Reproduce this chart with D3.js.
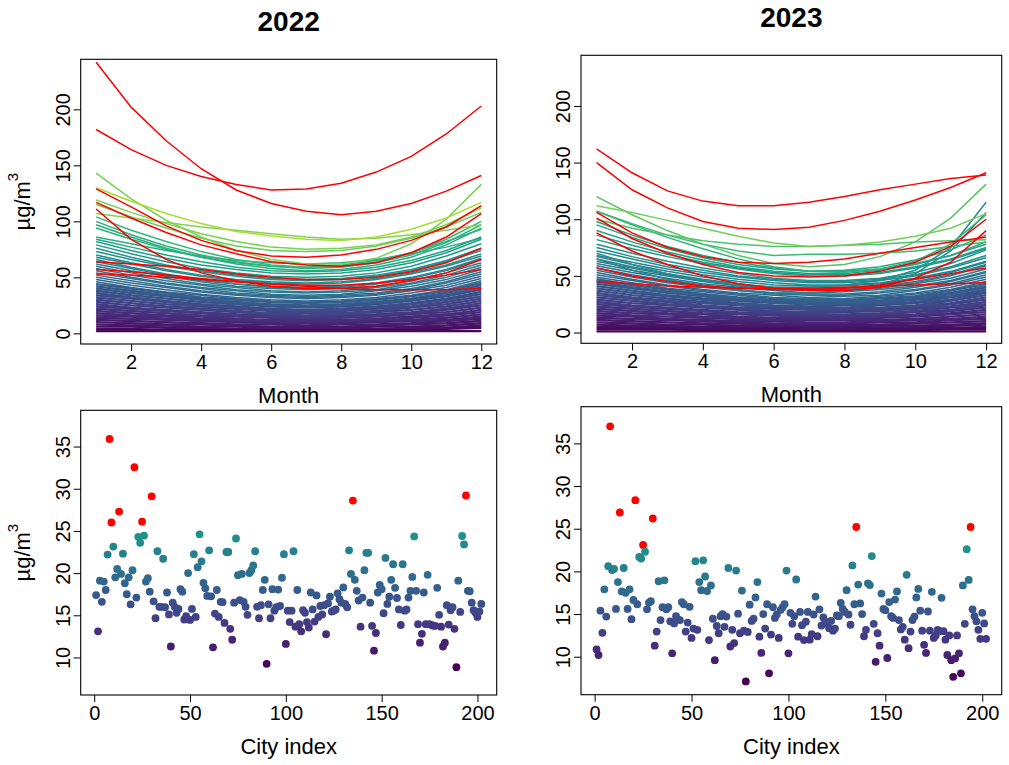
<!DOCTYPE html>
<html>
<head>
<meta charset="utf-8">
<script src="https://cdn.jsdelivr.net/npm/d3@7"></script>
<style>
body { margin: 0; background: #fff; }
text { font-family: "Liberation Sans", Arial, Helvetica, sans-serif; }
</style>
</head>
<body>
<svg id="chart" width="1009" height="765"></svg>
<script>
// ---- data ----
var months = [1, 2, 3, 4, 5, 6, 7, 8, 9, 10, 11, 12];
var monthTicks = [2, 4, 6, 8, 10, 12];
var topTicks = [0, 50, 100, 150, 200];
var cityTicks = [0, 50, 100, 150, 200];
var pmTicks = [10, 15, 20, 25, 30, 35];

// monthly curves, one row per city (Jan..Dec)
var redLines2022 = [
  [242,202,172,147,128,116,109,106,109,116,127,141],
  [182,164,150,140,133,128,129,134,144,158,178,203],
  [129,113,96,83,74,69,68,70,75,83,95,114],
  [117,103,90,79,71,64,61,60,63,72,86,107],
  [111,84,66,54,47,42,40,40,42,47,54,66],
  [64,62,60,57,53,50,48,48,50,55,63,76],
  [57,55,52,49,46,44,43,43,45,48,52,57],
  [53,52,50,48,46,44,42,40,39,39,39,40]
];
var lines2022 = [
  [143,120,101,86,74,66,62,62,67,80,102,133],
  [130,118,107,98,91,87,84,83,86,93,103,117],
  [107,103,99,95,92,89,86,84,85,88,92,97],
  [119,108,98,89,82,77,75,76,79,86,97,112],
  [115,104,94,85,78,74,73,74,78,85,95,108],
  [104,92,82,73,66,61,59,60,64,72,84,100],
  [100,88,78,70,64,60,58,59,63,70,81,97],
  [97,86,76,68,62,58,56,57,61,68,79,94],
  [94,84,75,68,63,60,59,61,65,72,82,93],
  [86,80,74,69,65,63,62,63,66,71,77,85],
  [84,77,70,64,59,56,55,56,59,65,74,86],
  [82,74,67,61,57,54,53,54,57,63,72,84],
  [79,71,64,58,54,51,50,51,54,60,69,80],
  [76,68,61,56,52,49,48,49,52,57,65,76],
  [73,66,60,55,51,48,47,48,51,56,64,74],
  [70,63,57,52,48,46,45,46,49,54,61,71],
  [68,62,56,51,47,45,44,45,48,53,60,69],
  [66,59,53,48,44,42,41,42,45,50,57,67],
  [64,58,52,47,44,41,40,41,44,49,56,66],
  [62,56,51,46,42,40,39,40,42,47,54,63],
  [60,54,49,44,41,38,37,38,41,45,52,61],
  [58,52,47,43,39,37,36,37,39,44,50,59],
  [56,50,45,41,38,35,34,35,38,42,48,57],
  [54,49,44,40,36,34,33,34,36,40,46,55],
  [52,47,42,38,35,33,32,33,35,39,45,53],
  [50,45,41,37,34,32,31,32,34,38,43,51],
  [48,43,39,35,32,30,29,30,32,36,41,49],
  [46,41,37,34,31,29,28,29,31,34,39,47],
  [44,40,36,32,30,28,27,28,30,33,38,45],
  [42,38,34,31,28,26,25,26,28,31,36,43],
  [40,36,33,30,27,25,24,25,27,30,34,41],
  [38,34,31,28,26,24,23,24,26,29,33,39],
  [36,32,29,26,24,22,21,22,24,27,31,37],
  [34,31,28,25,23,21,20,21,23,26,30,35],
  [32,29,26,24,22,20,19,20,22,24,28,33],
  [30,27,24,22,20,18,18,18,20,23,26,31],
  [28,25,23,21,19,17,16,17,19,21,24,29],
  [26,23,21,19,17,16,15,16,17,19,22,27],
  [24,22,20,18,16,15,14,15,16,18,21,25],
  [22,20,18,16,15,14,13,14,15,17,19,23],
  [20,18,16,15,13,12,12,12,13,15,17,21],
  [18,16,15,13,12,11,11,11,12,14,16,19],
  [16,15,13,12,11,10,10,10,11,12,14,17],
  [14,13,12,11,10,9,9,9,10,11,12,15],
  [12,11,10,9,8,8,7,8,8,9,11,13],
  [10,9,8,8,7,6,6,6,7,8,9,11],
  [8,7,7,6,6,5,5,5,6,6,7,9],
  [6,6,5,5,4,4,4,4,4,5,5,7],
  [4,4,3,3,3,3,3,3,3,3,4,5],
  [2,2,2,2,2,2,2,2,2,2,2,2]
];

var redLines2023 = [
  [162,141,125,116,112,112,115,120,126,131,136,139],
  [150,126,110,98,92,91,93,99,107,117,128,141],
  [106,88,75,67,62,61,62,65,70,75,80,84],
  [101,83,70,60,53,50,49,50,54,62,76,100],
  [88,72,60,50,43,39,37,37,40,48,62,90],
  [57,50,45,41,39,38,38,39,42,47,52,57],
  [45,43,41,40,39,39,39,40,41,42,43,44]
];
var lines2023 = [
  [120,104,90,78,68,61,58,60,67,80,101,131],
  [112,106,99,92,85,79,76,77,80,85,92,105],
  [100,92,86,81,78,76,76,77,78,80,81,82],
  [107,96,86,78,72,68,69,69,70,72,76,80],
  [107,95,84,74,65,58,54,53,56,63,78,104],
  [70,60,52,46,42,40,40,42,46,55,75,115],
  [65,55,47,41,37,35,35,37,42,52,72,106],
  [98,86,76,68,62,57,54,54,56,61,68,78],
  [95,84,74,66,60,56,54,55,58,64,73,86],
  [90,80,71,64,58,54,52,52,55,60,68,80],
  [86,77,69,62,57,53,51,51,53,58,65,75],
  [82,74,67,61,56,52,50,50,52,57,64,74],
  [78,70,63,57,52,48,46,46,48,53,61,73],
  [75,67,60,55,50,47,45,45,47,51,58,68],
  [72,65,58,53,49,46,44,44,46,50,57,66],
  [68,62,56,51,47,44,42,42,44,48,54,63],
  [67,60,54,49,45,42,41,41,43,47,53,62],
  [65,58,52,47,43,40,39,39,41,45,51,60],
  [63,57,51,46,42,39,38,38,40,44,50,59],
  [61,55,50,45,41,38,37,37,39,43,48,56],
  [59,53,48,43,40,37,35,36,38,41,46,54],
  [57,51,46,42,38,35,34,34,36,40,45,53],
  [55,49,44,40,37,34,33,33,35,38,43,51],
  [53,47,42,38,35,33,31,32,33,37,42,49],
  [51,46,41,37,34,31,30,30,32,35,40,47],
  [49,44,39,36,33,30,29,29,31,34,38,45],
  [47,42,38,34,31,29,28,28,30,32,37,43],
  [45,40,36,33,30,28,27,27,28,31,35,41],
  [43,39,35,32,29,27,26,26,27,30,34,40],
  [41,37,33,30,28,26,25,25,26,29,32,38],
  [39,35,32,29,26,24,23,24,25,27,31,36],
  [37,33,30,27,25,23,22,22,24,26,29,35],
  [35,31,28,26,24,22,21,21,22,24,28,33],
  [33,30,27,24,22,21,20,20,21,23,26,31],
  [31,28,25,23,21,19,18,19,20,22,25,29],
  [29,26,24,22,20,18,17,18,19,21,23,27],
  [27,24,22,20,18,17,16,16,17,19,22,25],
  [25,23,21,19,17,16,15,15,16,18,20,24],
  [23,21,19,17,16,15,14,14,15,16,19,22],
  [21,19,17,16,14,13,13,13,14,15,17,20],
  [19,17,16,14,13,12,12,12,13,14,16,18],
  [17,15,14,13,12,11,11,11,11,12,14,16],
  [15,14,12,11,10,10,9,9,10,11,12,14],
  [13,12,11,10,9,8,8,8,9,9,11,12],
  [11,10,9,8,8,7,7,7,7,8,9,10],
  [9,8,7,7,6,6,6,6,6,6,7,8],
  [7,6,6,5,5,5,4,4,5,5,6,7],
  [5,5,4,4,4,3,3,3,3,4,4,5],
  [3,3,3,2,2,2,2,2,2,2,3,3],
  [1,1,1,1,1,1,1,1,1,1,1,1]
];

// per-city annual values, city index 1..202
var pm2022 = [
  17.4,13.1,19.1,16.6,19.0,18.0,22.2,35.9,26.0,23.15,
  19.5,20.5,27.3,19.9,22.3,18.8,17.5,19.5,16.3,20.35,
  32.55,17.1,24.3,23.6,26.1,24.45,19.0,19.4,17.8,29.1,
  16.65,14.65,22.6,16.0,16.0,21.7,15.95,17.7,15.1,11.3,
  16.5,16.0,15.3,15.75,18.1,17.8,14.5,14.9,20.0,14.45,
  15.75,22.25,14.8,20.7,24.6,21.4,18.85,18.2,17.3,22.7,
  17.25,11.2,15.2,18.0,14.8,16.6,16.55,14.1,22.5,22.5,
  13.4,12.1,16.5,24.1,19.75,16.8,19.9,16.6,16.0,15.05,
  20.0,20.35,20.9,22.6,16.0,14.65,16.2,18.0,19.2,9.25,
  16.3,14.65,18.1,15.55,15.95,18.05,16.1,19.45,22.25,11.6,
  15.55,14.2,15.55,22.6,13.65,18.0,13.95,13.1,15.6,15.3,
  14.2,13.55,17.7,15.7,14.25,17.35,14.8,16.1,15.1,16.2,
  12.75,16.4,17.2,15.45,15.55,15.7,17.6,16.9,16.5,18.3,
  16.35,15.95,22.7,19.9,28.6,19.2,17.9,16.75,13.65,17.1,
  20.35,22.4,22.4,16.5,13.75,10.8,12.9,17.7,18.6,18.1,
  15.25,21.8,16.35,17.2,19.2,21.05,18.25,17.05,15.7,13.85,
  21.05,15.55,15.7,17.1,17.9,19.55,24.35,17.9,13.95,11.75,
  12.8,17.7,13.95,19.8,13.95,13.85,13.75,13.75,18.25,15.05,
  13.65,11.3,11.75,16.2,13.9,15.6,15.95,13.4,8.85,19.1,
  15.4,24.4,23.4,29.2,17.9,17.85,16.5,15.6,15.3,14.8,
  15.45,16.35
];
var pm2023 = [
  10.85,10.2,15.4,12.8,17.9,14.7,20.6,37.0,20.15,20.3,
  15.6,18.75,26.9,17.65,20.4,17.5,15.6,17.9,14.4,16.65,
  28.35,16.15,21.7,21.5,23.1,22.3,15.55,16.35,16.5,26.2,
  11.3,12.95,18.85,14.3,15.8,18.95,15.55,15.8,14.15,10.4,
  13.9,14.75,14.35,14.3,16.4,16.15,12.95,14.0,15.85,12.2,
  13.3,21.2,13.15,18.75,17.8,21.3,19.4,17.7,11.95,18.35,
  14.45,9.6,13.6,12.75,14.75,15.0,13.5,14.7,20.4,11.2,
  13.15,11.6,20.1,15.05,12.75,17.75,13.05,7.1,12.9,16.1,
  14.2,14.45,16.95,18.75,12.35,10.45,15.0,13.3,16.15,8.05,
  12.6,15.8,14.55,14.95,12.2,15.5,15.8,16.15,20.1,10.4,
  15.15,13.85,14.75,19.05,12.35,15.25,13.7,11.95,14.1,15.25,
  12.0,12.65,14.95,17.05,12.4,15.55,13.65,14.6,14.1,13.85,
  13.35,14.2,13.05,13.3,14.85,14.75,16.3,15.6,15.25,17.8,
  14.95,13.75,20.7,16.15,25.2,18.45,16.25,15.0,12.4,13.15,
  18.6,18.4,21.8,13.85,9.4,12.75,11.3,17.4,15.6,15.45,
  9.85,16.4,14.75,14.55,16.7,17.65,14.3,13.2,13.5,12.0,
  19.6,11.0,12.95,14.3,14.7,16.95,17.95,15.4,13.05,11.4,
  10.45,15.3,13.05,17.6,12.2,12.5,13.15,13.0,16.9,13.0,
  12.0,10.2,12.5,9.6,7.65,9.8,12.5,10.4,8.05,18.35,
  13.85,22.6,19.0,25.2,15.55,14.75,14.15,13.15,12.1,15.15,
  13.9,12.1
];
var redCities2022 = [8, 9, 13, 21, 25, 30, 135, 194];
var redCities2023 = [8, 13, 21, 25, 30, 135, 194];

// ---- drawing ----
var svg = d3.select('#chart');
var font = '"Liberation Sans", Arial, Helvetica, sans-serif';

var panels = [
  { year: '2022', x0: 80.7, x1: 496.7, top: [59.3, 344], bot: [410.3, 695], ylab: true, titleY: 31,
    lines: lines2022, reds: redLines2022, pm: pm2022, redCities: redCities2022 },
  { year: '2023', x0: 581, x1: 1001.7, top: [55.3, 343.3], bot: [406.7, 694.7], ylab: false, titleY: 27,
    lines: lines2023, reds: redLines2023, pm: pm2023, redCities: redCities2023 }
];

function lineColour(m) {
  return d3.interpolateViridis(Math.max(0, Math.min(0.88, m / 115)));
}

function box(x0, x1, y0, y1) {
  svg.append('rect')
    .attr('x', x0).attr('y', y0)
    .attr('width', x1 - x0).attr('height', y1 - y0)
    .attr('fill', 'none').attr('stroke', '#000').attr('stroke-width', 1.1);
}

function xAxis(scale, ticks, yPos) {
  var a = svg.append('g').attr('transform', 'translate(0,' + yPos + ')')
    .call(d3.axisBottom(scale).tickValues(ticks).tickSize(7).tickPadding(4).tickFormat(d3.format('d')));
  a.attr('font-size', 20).attr('font-family', font);
  a.select('.domain').remove();
  a.selectAll('line').attr('stroke', '#000');
  a.selectAll('text').attr('fill', '#000');
}

function yAxis(scale, ticks, xPos) {
  var a = svg.append('g').attr('transform', 'translate(' + xPos + ',0)')
    .call(d3.axisLeft(scale).tickValues(ticks).tickSize(7).tickFormat(d3.format('d')));
  a.attr('font-size', 20).attr('font-family', font);
  a.select('.domain').remove();
  a.selectAll('line').attr('stroke', '#000');
  a.selectAll('text')
    .attr('x', 0).attr('dy', 0)
    .attr('text-anchor', 'middle')
    .attr('fill', '#000')
    .attr('transform', 'translate(-11,0) rotate(-90)');
}

function unitLabel(cy) {
  var t = svg.append('text')
    .attr('transform', 'translate(30,' + cy + ') rotate(-90)')
    .attr('text-anchor', 'middle')
    .attr('font-size', 22);
  t.append('tspan').text('\u00b5g/m');
  t.append('tspan').attr('font-size', 15).attr('dy', -12).text('3');
}

panels.forEach(function(p) {
  // top: monthly curves
  var x = d3.scaleLinear().domain([0.56, 12.44]).range([p.x0, p.x1]);
  var y = d3.scaleLinear().domain([-9.5, 244.7]).range([p.top[1], p.top[0]]);
  var clipId = 'clip' + p.year;
  svg.append('clipPath').attr('id', clipId).append('rect')
    .attr('x', p.x0).attr('y', p.top[0])
    .attr('width', p.x1 - p.x0).attr('height', p.top[1] - p.top[0]);

  var line = d3.line()
    .x(function(d, i) { return x(months[i]); })
    .y(function(d) { return y(d); });

  var g = svg.append('g').attr('clip-path', 'url(#' + clipId + ')');
  var sorted = p.lines.slice().sort(function(a, b) { return d3.mean(a) - d3.mean(b); });
  g.selectAll('path.city').data(sorted).join('path')
    .attr('class', 'city')
    .attr('d', line)
    .attr('fill', 'none')
    .attr('stroke', function(d) { return lineColour(d3.mean(d)); })
    .attr('stroke-width', function(d) { return d3.mean(d) < 35 ? 2.4 : 1.5; });
  g.selectAll('path.red').data(p.reds).join('path')
    .attr('class', 'red')
    .attr('d', line)
    .attr('fill', 'none')
    .attr('stroke', '#ff0000')
    .attr('stroke-width', 1.5);

  box(p.x0, p.x1, p.top[0], p.top[1]);
  xAxis(x, monthTicks, p.top[1]);
  yAxis(y, topTicks, p.x0);

  svg.append('text')
    .attr('x', (p.x0 + p.x1) / 2).attr('y', p.titleY)
    .attr('text-anchor', 'middle')
    .attr('font-size', 28).attr('font-weight', 'bold')
    .text(p.year);
  svg.append('text')
    .attr('x', (p.x0 + p.x1) / 2).attr('y', p.top[1] + 59)
    .attr('text-anchor', 'middle')
    .attr('font-size', 22)
    .text('Month');

  // bottom: city scatter
  var xs = d3.scaleLinear().domain([-7.04, 210.04]).range([p.x0, p.x1]);
  var ys = d3.scaleLinear().domain([5.55, 39.3]).range([p.bot[1], p.bot[0]]);
  var vmin = d3.min(p.pm);
  var colour = d3.scaleSequential(d3.interpolateViridis).domain([vmin, vmin + 31]);
  var pts = p.pm.map(function(v, i) {
    return { idx: i + 1, v: v, red: p.redCities.indexOf(i + 1) >= 0 };
  });
  svg.append('g').selectAll('circle').data(pts).join('circle')
    .attr('cx', function(d) { return xs(d.idx); })
    .attr('cy', function(d) { return ys(d.v); })
    .attr('r', 3.9)
    .attr('fill', function(d) { return d.red ? '#ff0000' : colour(d.v); });

  box(p.x0, p.x1, p.bot[0], p.bot[1]);
  xAxis(xs, cityTicks, p.bot[1]);
  yAxis(ys, pmTicks, p.x0);
  svg.append('text')
    .attr('x', (p.x0 + p.x1) / 2).attr('y', p.bot[1] + 59)
    .attr('text-anchor', 'middle')
    .attr('font-size', 22)
    .text('City index');

  if (p.ylab) {
    unitLabel((p.top[0] + p.top[1]) / 2);
    unitLabel((p.bot[0] + p.bot[1]) / 2);
  }
});
</script>
</body>
</html>
